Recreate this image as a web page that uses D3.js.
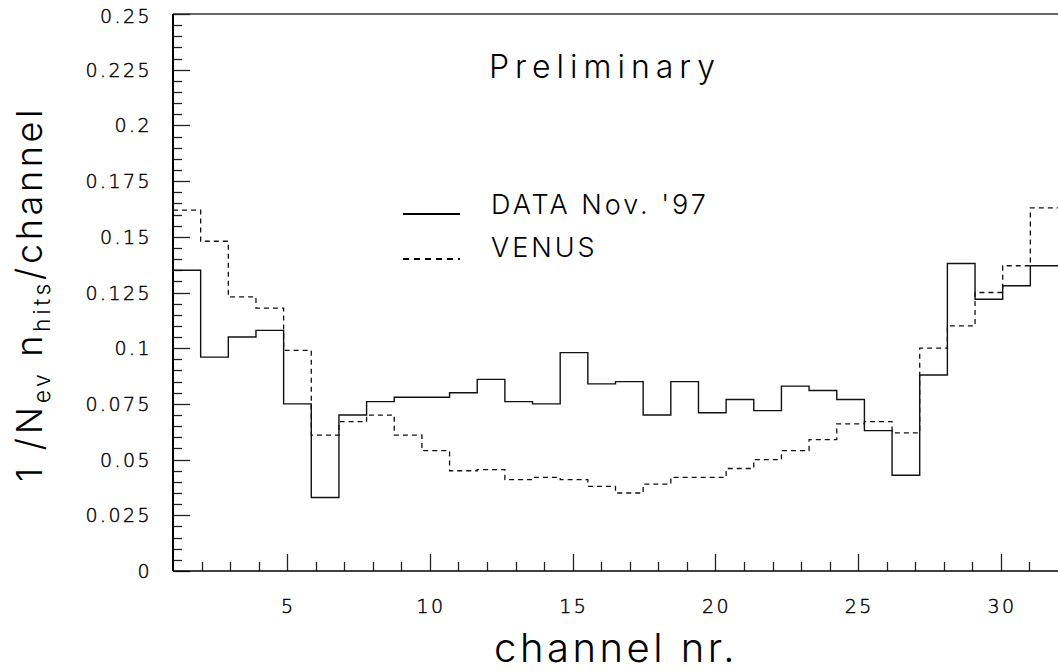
<!DOCTYPE html>
<html>
<head>
<meta charset="utf-8">
<script src="https://cdn.jsdelivr.net/npm/d3@7"></script>
<style>
  html, body { margin: 0; padding: 0; background: #fff; }
  svg { display: block; }
  .thin { font-family: "Inter", "Lato", "DejaVu Sans", sans-serif; font-weight: 300; fill: #000; }
  .tick-label { font-family: "DejaVu Sans", "Liberation Sans", sans-serif; font-weight: 200; font-size: 19px; letter-spacing: 2.4px; fill: #000; stroke: #000; stroke-width: 0.45px; }
</style>
</head>
<body>
<svg id="chart" width="1058" height="671"></svg>
<script>
// Hit multiplicity per channel, normalised to the number of events
const channelRange = [1, 32];
const nBins = 32;
const dataNov97 = [
  0.135, 0.096, 0.105, 0.108, 0.075, 0.033, 0.070, 0.076,
  0.078, 0.078, 0.080, 0.086, 0.076, 0.075, 0.098, 0.084,
  0.085, 0.070, 0.085, 0.071, 0.077, 0.072, 0.083, 0.081,
  0.077, 0.063, 0.043, 0.088, 0.138, 0.122, 0.128, 0.137
];
const venus = [
  0.162, 0.148, 0.123, 0.118, 0.099, 0.061, 0.067, 0.070,
  0.061, 0.054, 0.045, 0.0455, 0.041, 0.042, 0.041, 0.038,
  0.035, 0.039, 0.042, 0.042, 0.046, 0.050, 0.054, 0.059,
  0.066, 0.067, 0.062, 0.100, 0.110, 0.125, 0.137, 0.163
];
const yTickValues = [0, 0.025, 0.05, 0.075, 0.1, 0.125, 0.15, 0.175, 0.2, 0.225, 0.25];
const yTickLabels = ["0", "0.025", "0.05", "0.075", "0.1", "0.125", "0.15", "0.175", "0.2", "0.225", "0.25"];
const xTickValues = [5, 10, 15, 20, 25, 30];
const legendLabels = ["DATA Nov. '97", "VENUS"];

(function () {
  const svg = d3.select("#chart");
  const plotL = 173, plotR = 1058, plotT = 14, plotB = 571;

  const x = d3.scaleLinear().domain(channelRange).range([plotL, plotR]);
  const y = d3.scaleLinear().domain([0, 0.25]).range([plotB, plotT]);

  // bin edges of the histogram
  const binWidth = (channelRange[1] - channelRange[0]) / nBins;
  const edges = d3.range(nBins + 1).map(i => channelRange[0] + i * binWidth);

  // frame top line
  svg.append("line").attr("x1", plotL).attr("x2", plotR).attr("y1", plotT).attr("y2", plotT)
    .attr("stroke", "#333").attr("stroke-width", 1.6);

  // y axis: major ticks every 0.025, 4 minor ticks in between
  const yMinor = d3.range(0, 51).map(i => i * 0.005);
  svg.append("g").selectAll("line").data(yMinor).join("line")
    .attr("x1", plotL).attr("y1", d => Math.round(y(d)) + 0.5)
    .attr("x2", (d, i) => plotL + (i % 5 === 0 ? 17 : 9)).attr("y2", d => Math.round(y(d)) + 0.5)
    .attr("stroke", "#222").attr("stroke-width", 1.3);
  svg.append("line").attr("x1", plotL).attr("x2", plotL).attr("y1", plotT).attr("y2", plotB)
    .attr("stroke", "#000").attr("stroke-width", 2);
  svg.append("g").selectAll("text").data(yTickValues).join("text")
    .attr("class", "tick-label")
    .attr("x", 152).attr("y", d => y(d) + (d === 0.25 ? 2 : 0))
    .attr("text-anchor", "end").attr("dominant-baseline", "central")
    .text((d, i) => yTickLabels[i]);

  // x axis: major ticks every 5, minor ticks every channel
  const xMinor = d3.range(2, 32);
  svg.append("g").selectAll("line").data(xMinor).join("line")
    .attr("x1", d => Math.round(x(d)) + 0.5).attr("x2", d => Math.round(x(d)) + 0.5)
    .attr("y1", plotB).attr("y2", d => plotB - (d % 5 === 0 ? 17 : 9))
    .attr("stroke", "#222").attr("stroke-width", 1.3);
  svg.append("line").attr("x1", plotL).attr("x2", plotR).attr("y1", plotB).attr("y2", plotB)
    .attr("stroke", "#000").attr("stroke-width", 1.6);
  svg.append("g").selectAll("text").data(xTickValues).join("text")
    .attr("class", "tick-label")
    .attr("x", d => x(d) + 1).attr("y", 606)
    .attr("text-anchor", "middle").attr("dominant-baseline", "central")
    .text(d => d);

  // step histograms
  const step = d3.line().x(d => x(d[0])).y(d => y(d[1])).curve(d3.curveStepAfter);
  function histPoints(vals) {
    const pts = vals.map((v, i) => [edges[i], v]);
    pts.push([edges[nBins], vals[nBins - 1]]);
    return pts;
  }
  svg.append("path").attr("d", step(histPoints(venus)))
    .attr("fill", "none").attr("stroke", "#111").attr("stroke-width", 1.3)
    .attr("stroke-dasharray", "5,4");
  svg.append("path").attr("d", step(histPoints(dataNov97)))
    .attr("fill", "none").attr("stroke", "#111").attr("stroke-width", 1.4);

  // legend
  svg.append("line").attr("x1", 403).attr("x2", 460).attr("y1", 214).attr("y2", 214)
    .attr("stroke", "#000").attr("stroke-width", 2);
  svg.append("line").attr("x1", 403).attr("x2", 460).attr("y1", 259).attr("y2", 259)
    .attr("stroke", "#000").attr("stroke-width", 2).attr("stroke-dasharray", "6,5");
  svg.append("text").attr("class", "thin").attr("x", 491).attr("y", 214)
    .attr("font-size", 27).attr("letter-spacing", 3).text(legendLabels[0]);
  svg.append("text").attr("class", "thin").attr("x", 491).attr("y", 257)
    .attr("font-size", 27).attr("letter-spacing", 3).text(legendLabels[1]);

  // annotation
  svg.append("text").attr("class", "thin").attr("x", 489).attr("y", 78)
    .attr("font-size", 32).attr("letter-spacing", 6).text("Preliminary");

  // axis titles
  svg.append("text").attr("class", "thin").attr("x", 616).attr("y", 662)
    .attr("text-anchor", "middle").attr("font-size", 40).attr("letter-spacing", 3.5)
    .text("channel nr.");

  const yTitle = svg.append("text").attr("class", "thin")
    .attr("transform", "translate(42,294) rotate(-90)")
    .attr("text-anchor", "middle").attr("font-size", 36).attr("letter-spacing", 3.6);
  yTitle.append("tspan").text("1 /N");
  yTitle.append("tspan").attr("font-size", 23).attr("dy", 8).text("ev");
  yTitle.append("tspan").attr("dy", -8).text(" n");
  yTitle.append("tspan").attr("font-size", 23).attr("dy", 8).text("hits");
  yTitle.append("tspan").attr("dy", -8).text("/channel");
})();
</script>
</body>
</html>
